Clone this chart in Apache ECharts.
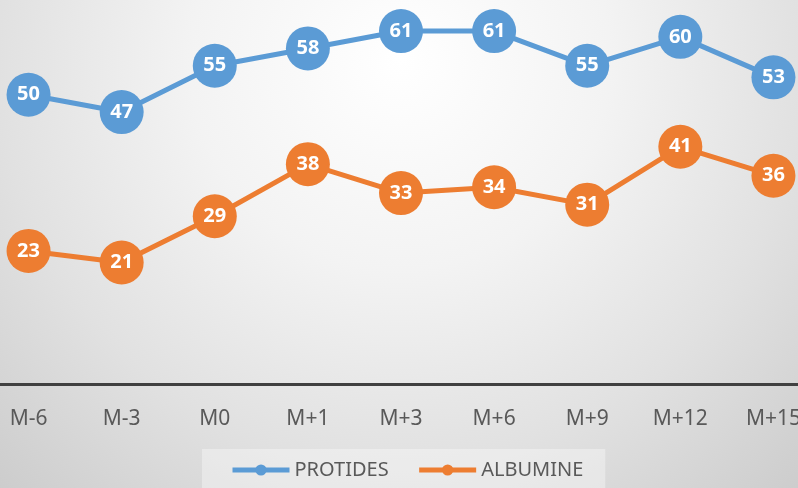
<!DOCTYPE html>
<html><head><meta charset="utf-8">
<script src="https://cdn.jsdelivr.net/npm/echarts@6/dist/echarts.min.js"></script>
<style>html,body{margin:0;padding:0;overflow:hidden;width:798px;height:488px;background:#e0e0e0;}
#c{position:absolute;left:-18px;top:-21px;width:838px;height:509px;}</style>
</head><body><div id="c"></div>
<script>
const categories = ['M-6','M-3','M0','M+1','M+3','M+6','M+9','M+12','M+15'];
const protides = [50,47,55,58,61,61,55,60,53];
const albumine = [23,21,29,38,33,34,31,41,36];
const seriesNames = ['PROTIDES','ALBUMINE'];

const chart = echarts.init(document.getElementById('c'));
const labelStyle = {show:true, position:'inside', color:'#ffffff', fontWeight:'bold', fontSize:20, fontFamily:'Noto Sans'};
chart.setOption({
  backgroundColor: {type:'radial', x:418, y:81, r:600, global:true,
    colorStops:[{offset:0,color:'#ffffff'},{offset:0.35,color:'#f3f3f3'},{offset:0.67,color:'#e1e1e1'},{offset:1,color:'#cbcbcb'}]},
  animation:false,
  grid:{left:0, right:0, top:0, bottom:104, containLabel:false},
  legend:{
    data:seriesNames, left:220, top:470, padding:[11,22,14,28], itemGap:28,
    itemWidth:57, itemHeight:14, backgroundColor:'rgba(255,255,255,0.35)',
    lineStyle:{width:5},
    textStyle:{color:'#595959', fontSize:20, fontFamily:'Noto Sans'}
  },
  xAxis:{type:'category', data:categories, boundaryGap:true,
    axisLine:{lineStyle:{color:'#404040', width:3}}, axisTick:{show:false},
    axisLabel:{color:'#595959', fontSize:21, fontFamily:'Noto Sans', margin:25, interval:0}},
  yAxis:{type:'value', min:0, max:70, show:false, splitLine:{show:false}},
  series:[
    {name:seriesNames[0], type:'line', data:protides, symbol:'circle', symbolSize:44,
     lineStyle:{width:5, color:'#5B9BD5'}, itemStyle:{color:'#5B9BD5'}, label:labelStyle},
    {name:seriesNames[1], type:'line', data:albumine, symbol:'circle', symbolSize:44,
     lineStyle:{width:5, color:'#ED7D31'}, itemStyle:{color:'#ED7D31'}, label:labelStyle}
  ]
});
</script></body></html>
